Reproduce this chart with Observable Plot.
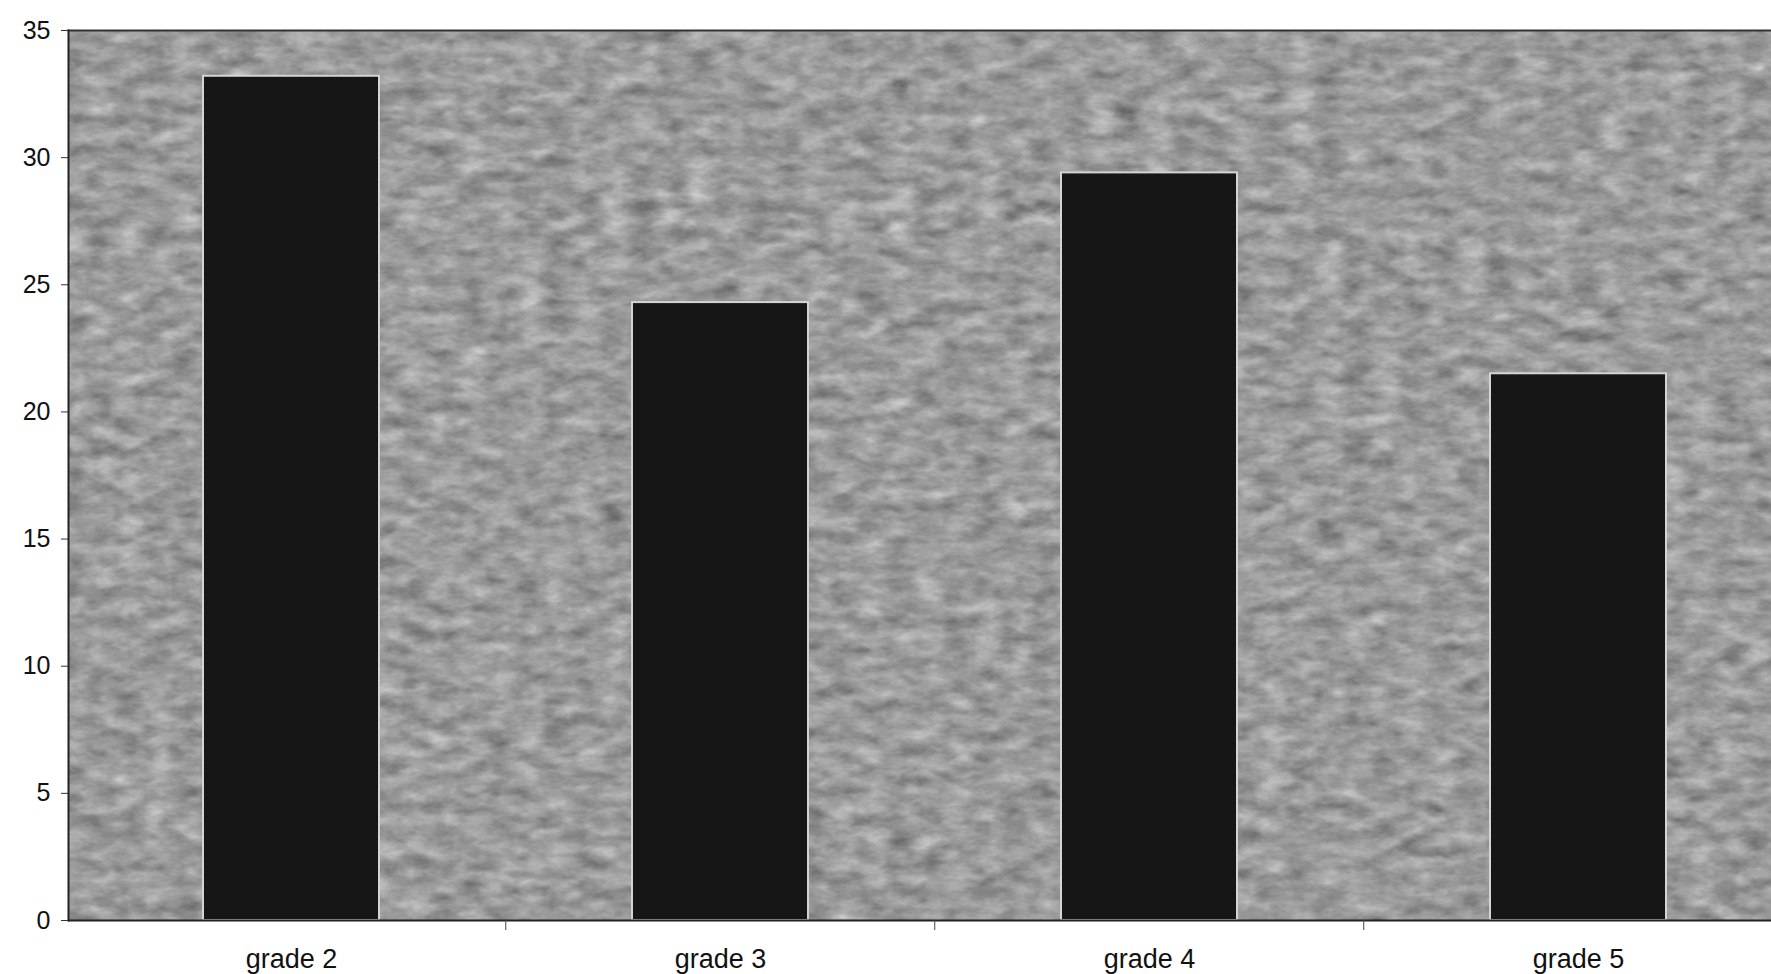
<!DOCTYPE html>
<html>
<head>
<meta charset="utf-8">
<script src="https://cdn.jsdelivr.net/npm/d3@7"></script>
<script src="https://cdn.jsdelivr.net/npm/@observablehq/plot@0.6"></script>
<style>
  html, body { margin: 0; padding: 0; background: #fff; }
  #chart { width: 1771px; height: 974px; }
</style>
</head>
<body>
<div id="chart"></div>
<script>
const grades = ["grade 2", "grade 3", "grade 4", "grade 5"];
const values = [33.2, 24.3, 29.4, 21.5];
const yTicks = [0, 5, 10, 15, 20, 25, 30, 35];

const data = grades.map((g, i) => ({ grade: g, value: values[i] }));

const W = 1771, H = 974;
const xRange = [75, 1793];
const step = (xRange[1] - xRange[0]) / grades.length;

const chart = Plot.plot({
  width: W,
  height: H,
  marginTop: 30,
  marginBottom: 54,
  marginLeft: 68,
  marginRight: 0,
  style: { fontFamily: "'Liberation Sans', Arial, sans-serif", fontSize: "25px", color: "#111", background: "#fff" },
  x: { domain: grades, range: xRange, paddingInner: 0.59, paddingOuter: 0.295, label: null },
  y: { domain: [0, 35], label: null },
  marks: [
    Plot.frame({ fill: "#9a9a9a", stroke: null }),
    Plot.barY(data, { x: "grade", y: "value", fill: "#161616", stroke: "#d4d4d4", strokeWidth: 2 }),
    Plot.frame({ anchor: "top", stroke: "#333", strokeWidth: 2 }),
    Plot.frame({ anchor: "left", stroke: "#222", strokeWidth: 2 }),
    Plot.ruleY([0], { stroke: "#222", strokeWidth: 2 }),
    Plot.axisY(yTicks, { tickSize: 7, tickPadding: 11, stroke: "#333", fill: "#111" }),
    Plot.axisX(grades, { tickSize: 0, tickPadding: 28, fill: "#111", fontSize: 27 }),
    Plot.axisX(grades.slice(1), { tickSize: 10, dx: -step / 2, tickFormat: () => "", stroke: "#444" })
  ]
});

// scanned-paper texture for the plot background
const ns = "http://www.w3.org/2000/svg";
const defs = document.createElementNS(ns, "defs");
defs.innerHTML = `
<filter id="tex" x="0" y="0" width="100%" height="100%" color-interpolation-filters="sRGB">
  <feTurbulence type="fractalNoise" baseFrequency="0.035 0.07" numOctaves="5" seed="11" result="n"/>
  <feColorMatrix in="n" type="matrix" values="0.33 0.33 0.33 0 0  0.33 0.33 0.33 0 0  0.33 0.33 0.33 0 0  0 0 0 0 1" result="g"/>
  <feComponentTransfer in="g" result="t">
    <feFuncR type="linear" slope="0.7" intercept="0.26"/>
    <feFuncG type="linear" slope="0.7" intercept="0.26"/>
    <feFuncB type="linear" slope="0.7" intercept="0.26"/>
  </feComponentTransfer>
  <feComposite in="t" in2="SourceGraphic" operator="in"/>
</filter>`;
chart.insertBefore(defs, chart.firstChild);
const frameG = chart.querySelector('[aria-label="frame"]');
if (frameG) frameG.setAttribute("filter", "url(#tex)");

document.getElementById("chart").appendChild(chart);
</script>
</body>
</html>
